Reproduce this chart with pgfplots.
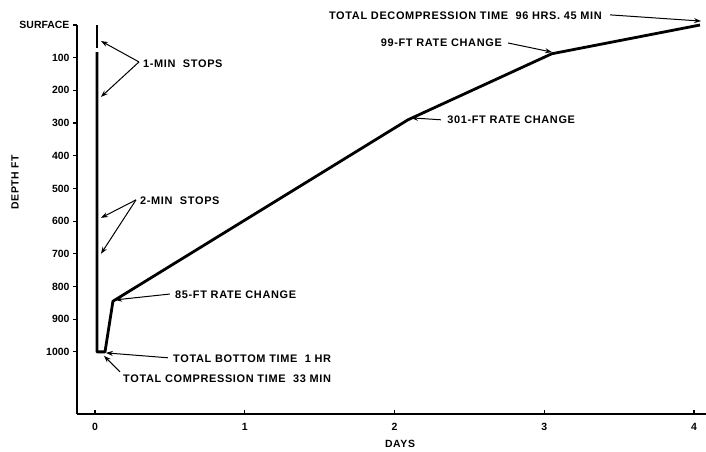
\documentclass[border=0pt]{standalone}
\usepackage{fontspec}
\setmainfont{Liberation Sans}
\newfontfamily\notefont[LetterSpace=6]{Liberation Sans}
\usepackage{pgfplots}
\pgfplotsset{compat=1.18}
\usetikzlibrary{arrows.meta}

\begin{document}
\begin{tikzpicture}[
        note/.style={font={\notefont\bfseries\fontsize{11}{13}\selectfont}, inner sep=0pt},
        pointer/.style={line width=1bp, -{Stealth[length=7bp,width=5bp]}},
    ]
    \path[use as bounding box] (-77bp,-38bp) rectangle (629bp,414bp);
    \begin{axis}[
            at={(0,0)}, anchor=south west,
            scale only axis,
            width=629bp, height=389bp,
            clip=false,
            %
            xmin=-0.12, xmax=4.08,
            ymin=0, ymax=1190,
            y dir=reverse,
            %
            axis x line=bottom, axis y line=left,
            axis line style={-, line width=1.6bp},
            %
            xtick={0,1,2,3,4},
            ytick={0,100,...,1000},
            yticklabels={SURFACE,100,200,300,400,500,600,700,800,900,1000},
            tick align=outside,
            major tick length=4bp,
            tick style={line width=1.2bp, black},
            x tick style={yshift=4bp},
            ticklabel style={font={\bfseries\fontsize{10.5}{12}\selectfont}},
            /pgf/number format/assume math mode=true,
            xticklabel style={yshift=-2bp},
            %
            xlabel={DAYS},
            ylabel={DEPTH FT},
            label style={font={\notefont\bfseries\fontsize{10.5}{12}\selectfont}},
            xlabel style={at={(rel axis cs:0.5135,-0.077)}, anchor=center},
            ylabel style={at={(rel axis cs:-0.0986,0.596)}, anchor=center},
        ]

        % descent, first short piece
        \addplot[no markers, line width=2.4bp] coordinates {
            (0.013, 0)
            (0.013, 70)
        };

        % rest of the profile
        \addplot[no markers, line width=2.8bp, line join=round] coordinates {
            (0.013, 83)
            (0.013, 1000)
            (0.067, 1000)
            (0.120, 845)
            (2.090, 290)
            (3.050, 88)
            (4.040, 0)
        };

        % notes
        \node[note, anchor=west] at (axis cs:0.320,119) {1-MIN\ \ STOPS};
        \draw[pointer] (axis cs:0.294,113) -- (axis cs:0.040,49);
        \draw[pointer] (axis cs:0.294,113) -- (axis cs:0.040,220);

        \node[note, anchor=west] at (axis cs:0.300,538) {2-MIN\ \ STOPS};
        \draw[pointer] (axis cs:0.274,535) -- (axis cs:0.040,590);
        \draw[pointer] (axis cs:0.274,535) -- (axis cs:0.040,700);

        \node[note, anchor=west] at (axis cs:0.534,826) {85-FT RATE CHANGE};
        \draw[pointer] (axis cs:0.500,823) -- (axis cs:0.134,841);

        \node[note, anchor=west] at (axis cs:0.521,1021) {TOTAL BOTTOM TIME\ \ 1 HR};
        \draw[pointer] (axis cs:0.487,1018) -- (axis cs:0.073,1003);

        \node[note, anchor=west] at (axis cs:0.187,1083) {TOTAL COMPRESSION TIME\ \ 33 MIN};
        \draw[pointer] (axis cs:0.167,1061) -- (axis cs:0.060,1012);

        \node[note, anchor=west] at (axis cs:2.351,290) {301-FT RATE CHANGE};
        \draw[pointer] (axis cs:2.310,290) -- (axis cs:2.110,284);

        \node[note, anchor=east] at (axis cs:2.718,55) {99-FT RATE CHANGE};
        \draw[pointer] (axis cs:2.758,55) -- (axis cs:3.052,83);

        \node[note, anchor=east] at (axis cs:3.386,-28) {TOTAL DECOMPRESSION TIME\ \ 96 HRS. 45 MIN};
        \draw[pointer] (axis cs:3.439,-31) -- (axis cs:4.047,-12);
    \end{axis}
\end{tikzpicture}
\end{document}
